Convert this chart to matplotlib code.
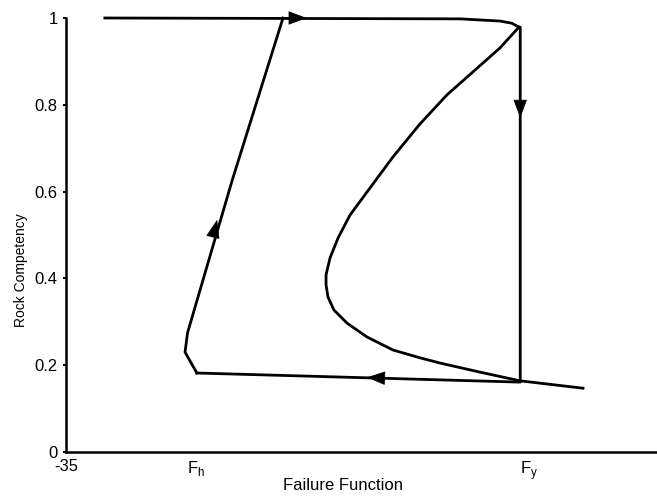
import numpy as np
import matplotlib.pyplot as plt

plt.rcParams['font.family'] = ['Liberation Sans', 'DejaVu Sans']

# failure thresholds on the x axis
F_h = -19.6
F_y = 18.8
F_y_label = 19.9

# hysteresis loop: left branch, then top / right / bottom branch
left_x = [-19.5, -20.9, -20.6, -15.3, -9.3]
left_y = [0.182, 0.230, 0.275, 0.627, 1.0]
path_x = [-30.4, 11.7, 16.4, 17.8, 18.65, 18.8, 18.8, -19.5]
path_y = [1.0, 0.998, 0.993, 0.988, 0.979, 0.979, 0.161, 0.182]

# S-shaped equilibrium curve
s_x = [18.65, 16.4, 13.21, 10.13, 6.93, 3.73, 0.65, -1.36, -2.78, -3.73, -4.2, -4.2,
       -3.97, -3.26, -1.72, 0.65, 3.73, 6.93, 9.3, 14.04, 18.77, 26.24]
s_y = [0.979, 0.931, 0.876, 0.823, 0.756, 0.680, 0.599, 0.546, 0.493, 0.447, 0.408, 0.385,
       0.357, 0.327, 0.297, 0.265, 0.235, 0.217, 0.205, 0.184, 0.164, 0.147]

# direction arrows (base, tip)
arrows = [((-8.9, 1.0), (-6.5, 1.0)),
          ((18.8, 0.806), (18.8, 0.770)),
          ((2.8, 0.170), (0.65, 0.172)),
          ((-17.6, 0.495), (-17.1, 0.535))]

fig = plt.figure(figsize=(6.57, 5.0), dpi=100)
ax = fig.add_axes([66/657, 48/500, 1 - 66/657, 434/500])

ax.plot(left_x, left_y, color='black', lw=2, clip_on=False, solid_joinstyle='round')
ax.plot(path_x, path_y, color='black', lw=2, clip_on=False, solid_joinstyle='round')
ax.plot(s_x, s_y, color='black', lw=2, clip_on=False, solid_joinstyle='round')

for base, tip in arrows:
    ax.annotate('', xy=tip, xytext=base, annotation_clip=False,
                arrowprops=dict(arrowstyle='-|>,head_length=0.8,head_width=0.3',
                                mutation_scale=15, color='black', lw=0.5,
                                shrinkA=0, shrinkB=0))

ax.set_xlim(-35, 35)
ax.set_ylim(0, 1)

ax.set_yticks([0, 0.2, 0.4, 0.6, 0.8, 1])
ax.set_yticklabels(['0', '0.2', '0.4', '0.6', '0.8', '1'])
ax.set_xticks([-35, F_h, F_y_label])
ax.set_xticklabels(['-35', r'F$_\mathregular{h}$', r'F$_\mathregular{y}$'])
ax.tick_params(axis='both', labelsize=12, width=1.5, length=2.5, direction='out', pad=3.5)
ax.tick_params(axis='x', length=0, pad=5)

for side in ['top', 'right']:
    ax.spines[side].set_visible(False)
for side in ['left', 'bottom']:
    ax.spines[side].set_linewidth(1.8)

ax.set_xlabel('Failure Function', fontsize=12)
ax.set_ylabel('Rock Competency', fontsize=10)
ax.xaxis.set_label_coords(0.469, -0.06)
ax.yaxis.set_label_coords(-0.064, 0.42)

fig.savefig('out.png', dpi=100)
